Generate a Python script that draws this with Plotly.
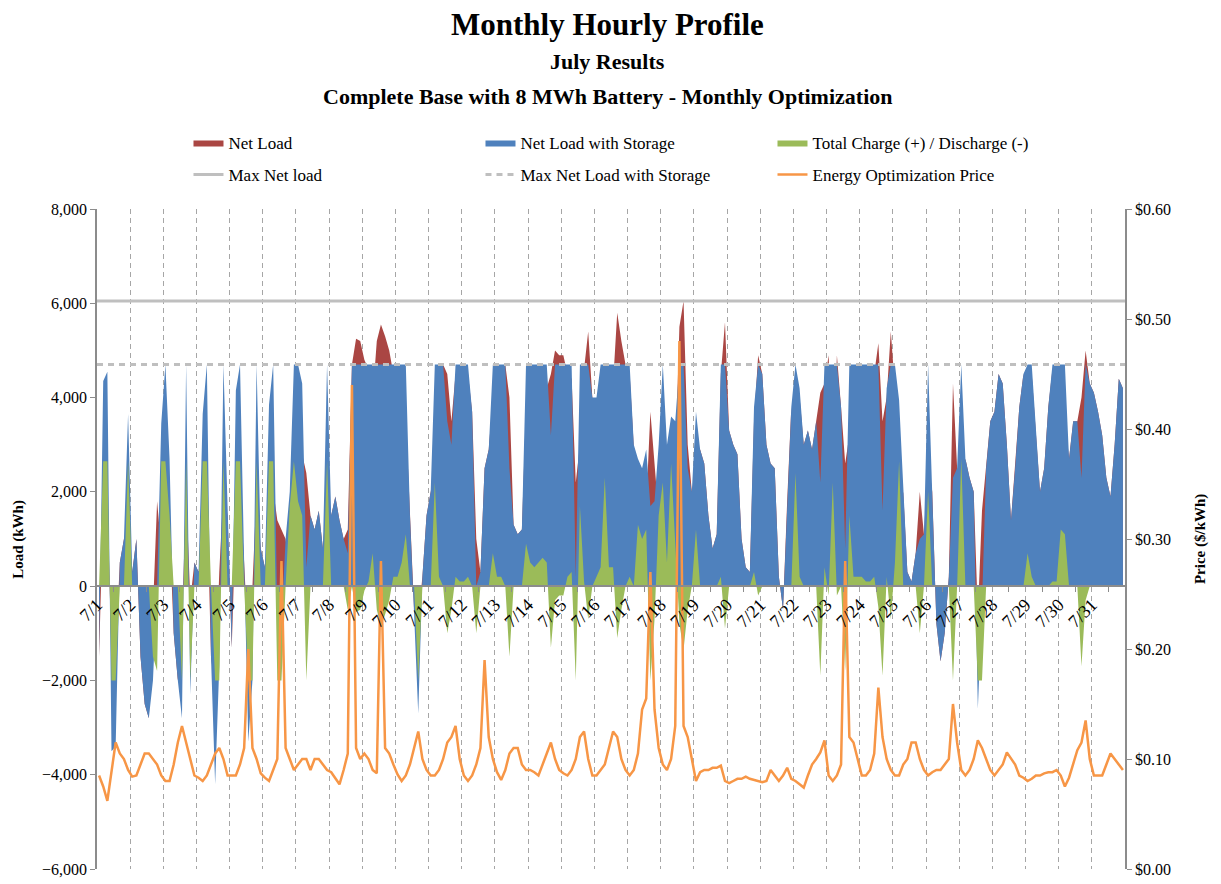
import plotly.graph_objects as go

# ---------------- data (3-hour blocks, 8 per day, July 1..31) ----------------
day_labels = [f"7/{d}" for d in range(1, 32)]
block_hours = [1.5, 4.5, 7.5, 10.5, 13.5, 16.5, 19.5, 22.5]

net_load = [
    -1500, 1700, 1900, -1500, -1400, 500, 1000, 1000,      # 7/1
    300, 1000, -1500, -2500, -2800, -500, 1800, 800,       # 7/2
    2050, 1200, -1000, -2000, -800, 2050, -300, 500,       # 7/3
    300, 1000, 2050, -1500, -2200, 300, 2050, 1500,        # 7/4
    -1300, 1500, 2050, 500, -1300, 0, 2050, 800,           # 7/5
    400, 1200, 2050, 1400, 1200, 1000, 300, 2050,          # 7/6
    2900, 2800, 2400, 1500, 1200, 1600, 800, 2050,         # 7/7
    1500, 1900, 1400, 1000, 1200, 4700, 5250, 5200,        # 7/8
    4800, 4600, 4000, 5200, 5550, 5300, 5000, 4500,        # 7/9
    4500, 4200, 3600, 1500, -500, -700, 200, 1500,         # 7/10
    2000, 2500, 4500, 4700, 4500, 3500, 4500, 4600,        # 7/11
    4600, 4500, 3700, 1000, 300, 2500, 2900, 4000,         # 7/12
    4500, 4500, 4700, 4000, 1300, 1100, 1200, 3800,        # 7/13
    4200, 4300, 4200, 4100, 4200, 4500, 5000, 4900,        # 7/14
    4900, 4500, 4400, 2200, 3000, 4600, 5400, 4000,        # 7/15
    3800, 4300, 2400, 4300, 4300, 5800, 5200, 4700,        # 7/16
    4500, 3000, 1400, 1500, 1700, 3700, 2500, 1500,        # 7/17
    2500, 2500, 1000, 2500, 5500, 6050, 3000, 2000,        # 7/18
    2500, 2900, 2600, 1500, 800, 1100, 4500, 5600,         # 7/19
    3300, 3000, 2800, 1000, 400, 300, 3500, 4900,          # 7/20
    4500, 3000, 2600, 2500, 200, -500, 1800, 3800,         # 7/21
    2300, 4000, 3000, 3300, 2900, 3500, 4100, 4300,        # 7/22
    4900, 2500, 4900, 3800, 2600, 3200, 4500, 4500,        # 7/23
    4500, 4600, 4600, 4500, 5150, 3500, 4000, 5400,        # 7/24
    4200, 1300, 2000, 300, 100, 700, 2000, 1100,           # 7/25
    2700, 2000, -800, -1600, -1000, 200, 4300, 2500,       # 7/26
    2000, 2700, 2300, 2000, -600, 1600, 2500, 3500,        # 7/27
    3700, 4500, 4300, 3000, 1400, 2500, 3800, 4500,        # 7/28
    4000, 4500, 3300, 2000, 2500, 3800, 4600, 4600,        # 7/29
    3500, 3600, 2700, 3500, 3500, 4000, 5000, 4300,        # 7/30
    4100, 3700, 3200, 2300, 1900, 3000, 4400, 4200,        # 7/31
]

charge = [
    0, 2650, 2650, -2000, -2000, 0, 0, 2650,               # 7/1
    0, 0, 0, 0, 0, -1500, -1800, 2650,                     # 7/2
    2650, 1500, 0, 0, -2000, 2650, -2000, 0,               # 7/3
    0, 2650, 2650, 0, -2000, -2000, 2650, 0,               # 7/4
    0, 2650, 2650, 0, -2000, -2000, 2650, 0,               # 7/5
    0, 2650, 2650, -2000, -2000, 0, 1700, 2650,            # 7/6
    1800, 1500, -2000, 0, 0, 0, 0, 2650,                   # 7/7
    0, 0, 0, 0, -500, 0, -550, -500,                       # 7/8
    -100, 100, 700, -500, -850, -600, -300, 200,           # 7/9
    200, 500, 1100, 0, 0, -2000, 0, 0,                     # 7/10
    0, 2200, 200, 0, -1000, -500, 200, 100,                # 7/11
    100, 200, 0, -1000, 0, 0, 0, 700,                      # 7/12
    200, 200, 0, -1500, 0, 0, 0, 900,                      # 7/13
    500, 400, 500, 600, 500, -1300, -300, -200,            # 7/14
    -200, 200, 300, -2000, 1700, 100, -700, 0,             # 7/15
    200, 400, 2300, 400, 400, -1100, -500, 0,              # 7/16
    200, 0, 1300, 1000, 1200, -2000, -700, 1500,           # 7/17
    2200, 500, 2600, 1000, -800, -1350, -500, 0,           # 7/18
    1200, 0, 0, 0, 0, 0, 200, -900,                        # 7/19
    0, 0, 0, 0, 0, 0, 300, -200,                           # 7/20
    0, 0, 0, 0, 0, 0, 0, 0,                                # 7/21
    2400, 200, 0, 0, 0, 0, -1900, 400,                     # 7/22
    -200, 2200, -200, 0, -1800, 1500, 200, 200,            # 7/23
    200, 100, 100, 200, -450, -1900, 200, -700,            # 7/24
    500, 2650, 0, 0, 0, 0, -1000, 0,                       # 7/25
    2000, 0, 0, 0, 0, 0, -2000, 0,                         # 7/26
    2700, 0, 0, 0, -2000, -2000, 0, 0,                     # 7/27
    0, 0, 0, 0, 0, 0, 0, 0,                                # 7/28
    700, 200, 0, 0, 0, 0, 100, 100,                        # 7/29
    1200, 1100, 0, 0, 0, -1700, -300, 0,                   # 7/30
    0, 0, 0, 0, 0, 0, 0, 0,                                # 7/31
]

price = [
    0.085, 0.075, 0.062, 0.090, 0.115, 0.105, 0.100, 0.090,   # 7/1
    0.084, 0.085, 0.095, 0.105, 0.105, 0.100, 0.095, 0.085,   # 7/2
    0.080, 0.080, 0.095, 0.115, 0.130, 0.115, 0.100, 0.085,   # 7/3
    0.083, 0.080, 0.085, 0.095, 0.105, 0.110, 0.100, 0.085,   # 7/4
    0.085, 0.085, 0.095, 0.110, 0.200, 0.110, 0.100, 0.087,   # 7/5
    0.083, 0.080, 0.090, 0.100, 0.280, 0.110, 0.100, 0.090,   # 7/6
    0.095, 0.100, 0.100, 0.090, 0.100, 0.100, 0.095, 0.090,   # 7/7
    0.088, 0.083, 0.077, 0.090, 0.105, 0.440, 0.110, 0.100,   # 7/8
    0.105, 0.100, 0.090, 0.087, 0.280, 0.110, 0.105, 0.095,   # 7/9
    0.086, 0.080, 0.085, 0.095, 0.110, 0.125, 0.100, 0.090,   # 7/10
    0.085, 0.085, 0.090, 0.100, 0.115, 0.120, 0.130, 0.100,   # 7/11
    0.085, 0.080, 0.085, 0.095, 0.110, 0.190, 0.120, 0.100,   # 7/12
    0.088, 0.081, 0.090, 0.105, 0.110, 0.110, 0.095, 0.090,   # 7/13
    0.090, 0.088, 0.085, 0.095, 0.105, 0.115, 0.100, 0.090,   # 7/14
    0.087, 0.085, 0.090, 0.100, 0.120, 0.125, 0.100, 0.085,   # 7/15
    0.085, 0.090, 0.095, 0.110, 0.125, 0.120, 0.100, 0.090,   # 7/16
    0.085, 0.090, 0.105, 0.145, 0.155, 0.270, 0.145, 0.110,   # 7/17
    0.095, 0.090, 0.100, 0.130, 0.480, 0.130, 0.120, 0.100,   # 7/18
    0.080, 0.088, 0.090, 0.090, 0.092, 0.092, 0.094, 0.080,   # 7/19
    0.078, 0.080, 0.082, 0.082, 0.084, 0.082, 0.081, 0.080,   # 7/20
    0.079, 0.080, 0.090, 0.085, 0.080, 0.085, 0.092, 0.082,   # 7/21
    0.080, 0.077, 0.074, 0.085, 0.095, 0.100, 0.106, 0.117,   # 7/22
    0.085, 0.080, 0.085, 0.095, 0.280, 0.120, 0.115, 0.100,   # 7/23
    0.085, 0.085, 0.090, 0.105, 0.165, 0.120, 0.100, 0.090,   # 7/24
    0.085, 0.085, 0.095, 0.100, 0.115, 0.115, 0.100, 0.090,   # 7/25
    0.085, 0.088, 0.090, 0.090, 0.095, 0.100, 0.150, 0.115,   # 7/26
    0.090, 0.085, 0.090, 0.100, 0.117, 0.110, 0.100, 0.090,   # 7/27
    0.085, 0.090, 0.095, 0.106, 0.100, 0.095, 0.085, 0.083,   # 7/28
    0.080, 0.082, 0.085, 0.085, 0.087, 0.088, 0.088, 0.090,   # 7/29
    0.085, 0.075, 0.083, 0.095, 0.108, 0.115, 0.135, 0.100,   # 7/30
    0.085, 0.085, 0.085, 0.095, 0.105, 0.100, 0.095, 0.090,   # 7/31
]

# ---------------- derived ----------------
x = [d + h / 24 for d in range(len(day_labels)) for h in block_hours]
net_load_storage = [a + b for a, b in zip(net_load, charge)]
max_net_load = max(net_load)
max_net_load_storage = max(net_load_storage)
x_span = [0, len(day_labels)]

FONT = "Liberation Serif"
RED = "#AA4643"
BLUE = "#4F81BD"
GREEN = "#9BBB59"
ORANGE = "#F79646"
GREY = "#BFBFBF"
AXIS = "#8C8C8C"

fig = go.Figure()
fig.add_trace(go.Scatter(x=x, y=net_load, name="Net Load", mode="lines",
                         line=dict(width=0, color=RED), fill="tozeroy",
                         fillcolor=RED, legend="legend"))
fig.add_trace(go.Scatter(x=x, y=net_load_storage, name="Net Load with Storage", mode="lines",
                         line=dict(width=0, color=BLUE), fill="tozeroy",
                         fillcolor=BLUE, legend="legend"))
fig.add_trace(go.Scatter(x=x, y=charge, name="Total Charge (+) / Discharge (-)", mode="lines",
                         line=dict(width=0, color=GREEN), fill="tozeroy",
                         fillcolor=GREEN, legend="legend"))
fig.add_trace(go.Scatter(x=x_span, y=[max_net_load] * 2, name="Max Net load", mode="lines",
                         line=dict(width=3, color=GREY), legend="legend2"))
fig.add_trace(go.Scatter(x=x_span, y=[max_net_load_storage] * 2, name="Max Net Load with Storage",
                         mode="lines", line=dict(width=3, color=GREY, dash="6px,5px"),
                         legend="legend2"))
fig.add_trace(go.Scatter(x=x, y=price, name="Energy Optimization Price", mode="lines",
                         line=dict(width=2.5, color=ORANGE), yaxis="y2", legend="legend2"))

# page body has an 8px margin, so the figure is offset by 8px inside the window
fig.update_layout(
    width=1205, height=876,
    margin=dict(l=89, r=88, t=201, b=15, autoexpand=False),
    paper_bgcolor="white", plot_bgcolor="white",
    font=dict(family=FONT, size=16, color="black"),
    showlegend=True,
    xaxis=dict(
        range=[0, len(day_labels)], anchor="free", position=6 / 14, automargin=False,
        tickmode="array", tickvals=list(range(len(day_labels))), ticktext=day_labels,
        tickangle=-45, ticks="", tickfont=dict(family=FONT, size=18, color="black"),
        showgrid=True, gridcolor="#A6A6A6", gridwidth=1, griddash="5px,4px",
        showline=True, linecolor=AXIS, linewidth=2, layer="above traces",
        zeroline=False,
        minor=dict(tick0=0.5, dtick=1, ticks="outside", ticklen=5, tickcolor=AXIS, showgrid=False),
    ),
    yaxis=dict(
        range=[-6000, 8000], dtick=2000, tickformat=",d", automargin=False,
        ticklabeloverflow="allow",
        showgrid=False, zeroline=False,
        showline=True, linecolor=AXIS, linewidth=1.5,
        ticks="outside", ticklen=5, tickcolor=AXIS,
        tickfont=dict(family=FONT, size=16, color="black"),
    ),
    yaxis2=dict(
        range=[0, 0.6], dtick=0.1, tickformat="$.2f", overlaying="y", side="right",
        automargin=False, ticklabeloverflow="allow", showgrid=False, zeroline=False,
        showline=True, linecolor=AXIS, linewidth=1.5,
        ticks="outside", ticklen=5, tickcolor=AXIS,
        tickfont=dict(family=FONT, size=16, color="black"),
    ),
    legend=dict(orientation="h", x=0.089, xanchor="left", y=1.10, yanchor="middle",
                entrywidth=247, entrywidthmode="pixels", traceorder="normal",
                font=dict(family=FONT, size=17, color="black"), bgcolor="rgba(0,0,0,0)"),
    legend2=dict(orientation="h", x=0.089, xanchor="left", y=1.0515, yanchor="middle",
                 entrywidth=247, entrywidthmode="pixels", traceorder="normal",
                 font=dict(family=FONT, size=17, color="black"), bgcolor="rgba(0,0,0,0)"),
    annotations=[
        dict(text="<b>Monthly Hourly Profile</b>", xref="paper", yref="paper", x=0.497, y=1.279,
             xanchor="center", showarrow=False, font=dict(family=FONT, size=31, color="black"),
             yanchor="middle"),
        dict(text="<b>July Results</b>", xref="paper", yref="paper", x=0.497, y=1.224,
             xanchor="center", showarrow=False, font=dict(family=FONT, size=22, color="black"),
             yanchor="middle"),
        dict(text="<b>Complete Base with 8 MWh Battery - Monthly Optimization</b>", xref="paper",
             yref="paper", x=0.497, y=1.170, xanchor="center", showarrow=False,
             font=dict(family=FONT, size=22, color="black"), yanchor="middle"),
        dict(text="<b>Load (kWh)</b>", xref="paper", yref="paper", x=-0.077, y=0.5,
             xanchor="center", yanchor="middle", textangle=-90, showarrow=False,
             font=dict(family=FONT, size=15, color="black")),
        dict(text="<b>Price ($/kWh)</b>", xref="paper", yref="paper", x=1.073, y=0.5,
             xanchor="center", yanchor="middle", textangle=-90, showarrow=False,
             font=dict(family=FONT, size=15, color="black")),
    ],
)

fig.write_html("out.html")
